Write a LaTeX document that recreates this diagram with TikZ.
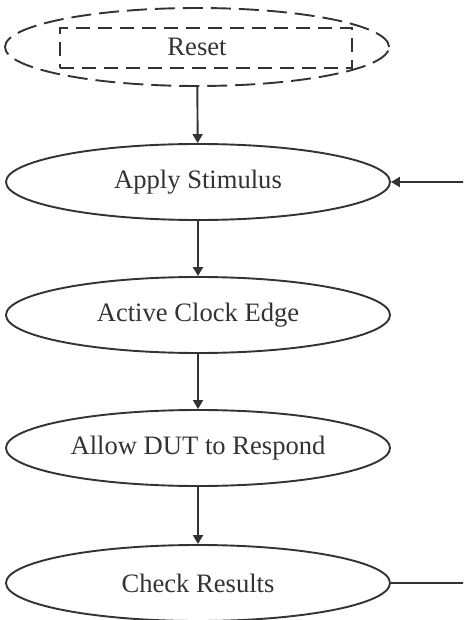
\documentclass[tikz,border=0pt]{standalone}
\usepackage{fontspec}
\setmainfont{Liberation Serif}
\usetikzlibrary{shapes.geometric,arrows.meta}
\definecolor{inkgray}{HTML}{333333}
\tikzset{
  stage/.style={ellipse,draw=inkgray,line width=0.95pt,minimum width=192pt,minimum height=38pt,inner sep=0pt,text=inkgray,font=\fontsize{13.3}{15}\selectfont},
  flow/.style={draw=inkgray,line width=0.95pt,-{Triangle[length=4.5pt,width=5pt]}}
}
\begin{document}
\begin{tikzpicture}[x=0.5pt,y=-0.5pt]
\clip (0,0) rectangle (463,620);
\node[stage,dash pattern=on 10pt off 4pt,minimum height=39pt] (reset) at (197,47) {Reset};
\node[draw=inkgray,line width=0.95pt,dash pattern=on 7pt off 4pt,minimum width=146pt,minimum height=20pt,inner sep=0pt] (resetbox) at (206,48) {};
\node[stage] (apply) at (198,182) {Apply Stimulus};
\node[stage] (clock) at (198,315) {Active Clock Edge};
\node[stage] (respond) at (198,448) {Allow DUT to Respond};
\node[stage] (check) at (198,583) {Check Results};
\coordinate (loopdown) at (470,583);
\coordinate (loopup) at (470,182);
\draw[flow] (reset) -- (apply);
\draw[flow] (apply) -- (clock);
\draw[flow] (clock) -- (respond);
\draw[flow] (respond) -- (check);
\draw[flow] (check.east) -- (loopdown) -- (loopup) -- (apply.east);
\end{tikzpicture}
\end{document}
